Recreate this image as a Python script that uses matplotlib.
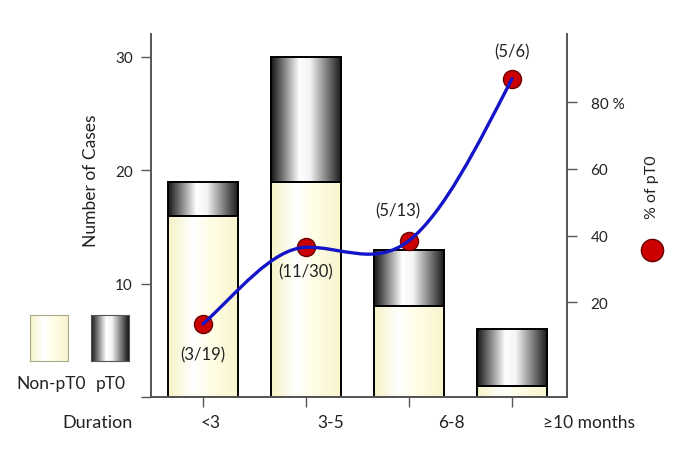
import numpy as np
import matplotlib.pyplot as plt
import matplotlib.transforms as mtransforms
from matplotlib.colors import LinearSegmentedColormap
from matplotlib.path import Path
from matplotlib.patches import PathPatch, Rectangle

categories = ['<3', '3-5', '6-8', '≥10 months']
non_pt0 = [16, 19, 8, 1]
pt0 = [3, 11, 5, 5]
pct_pt0 = [13.5, 36.5, 38.5, 87]
ratio_labels = ['(3/19)', '(11/30)', '(5/13)', '(5/6)']

# shape of the smooth blue line (slopes at each point) and label shifts
curve_slopes = [28, 1, 24, 60]
label_shift = [-0.02, 1.107, 2.28, 3.30]

plt.rcParams['font.family'] = ['Lato', 'DejaVu Sans']
TXT = '#222222'

cyl = LinearSegmentedColormap.from_list(
    'cyl', [(0, '#151515'), (0.4, '#ffffff'), (0.55, '#f4f4f4'), (1, '#151515')])
cream = LinearSegmentedColormap.from_list(
    'cream', [(0, '#f6f2c4'), (0.35, '#ffffff'), (0.6, '#fffde6'), (1, '#f8f4cc')])
grad = np.linspace(0, 1, 256).reshape(1, -1)


def grad_box(ax, x0, x1, y0, y1, cmap, z=2):
    ax.imshow(grad, cmap=cmap, extent=[x0, x1, y0, y1], aspect='auto',
              zorder=z, interpolation='bicubic')
    ax.add_patch(Rectangle((x0, y0), x1 - x0, y1 - y0, fill=False,
                           edgecolor='black', lw=1.4, zorder=z + 0.1))


fig = plt.figure(figsize=(6.85, 4.56), dpi=100)
ax = fig.add_axes([0.2204, 0.127, 0.6073, 0.796])
ax2 = ax.twinx()

width = 0.68
x = np.arange(len(categories))
for i in x:
    grad_box(ax, i - width / 2, i + width / 2, 0, non_pt0[i], cream)
    grad_box(ax, i - width / 2, i + width / 2, non_pt0[i], non_pt0[i] + pt0[i], cyl)

ax.set_xlim(-0.505, 3.534)
ax.set_ylim(0, 32)
ax.set_xticks(x)
ax.set_xticklabels([])
ax.set_yticks([0, 10, 20, 30])
ax.set_yticklabels(['', '10', '20', '30'])
ax.spines['top'].set_visible(False)
ax2.spines['top'].set_visible(False)
for a in (ax, ax2):
    for s in ['left', 'right', 'bottom']:
        a.spines[s].set_color('#555555')
        a.spines[s].set_linewidth(1.2)
ax.tick_params(axis='y', length=7, width=1, color='#555555', labelsize=11,
               labelcolor=TXT, pad=6)
ax.tick_params(axis='x', length=7, width=1, color='#555555')

trans = mtransforms.blended_transform_factory(ax.transData, fig.transFigure)
for i, lab in enumerate(categories):
    ax.text(label_shift[i], 1 - 423 / 456, lab, transform=trans, ha='left',
            va='center', fontsize=12.5, color=TXT)

# percentage curve
ax2.set_ylim(-8.4, 100.4)
ax2.set_yticks([20, 40, 60, 80])
ax2.set_yticklabels(['20', '40', '60', '80 %'])
ax2.tick_params(axis='y', length=7, width=1, color='#555555', labelsize=11,
                labelcolor=TXT, pad=10)

px = x.astype(float)
py = np.array(pct_pt0, dtype=float)
verts = [(px[0], py[0])]
codes = [Path.MOVETO]
for k in range(len(py) - 1):
    h = px[k + 1] - px[k]
    verts += [(px[k] + h / 3, py[k] + curve_slopes[k] * h / 3),
              (px[k + 1] - h / 3, py[k + 1] - curve_slopes[k + 1] * h / 3),
              (px[k + 1], py[k + 1])]
    codes += [Path.CURVE4] * 3
ax2.plot(px, py, 'o', ms=13, color='#cc0000', mec='#6a0000', mew=1, zorder=5)
ax2.add_patch(PathPatch(Path(verts, codes), fill=False, edgecolor='#1414c8',
                        lw=2.4, zorder=6, capstyle='round'))

offsets = [(0, -22), (0, -17), (-8, 22), (0, 20)]
for i, lab in enumerate(ratio_labels):
    ax2.annotate(lab, (px[i], py[i]), xytext=offsets[i], textcoords='offset points',
                 ha='center', va='center', fontsize=12, color=TXT)

fig.text(91 / 685, 1 - 181 / 456, 'Number of Cases', rotation=90, ha='center',
         va='center', fontsize=12.5, color=TXT)

# legend boxes
lg1 = fig.add_axes([30 / 685, 1 - 362 / 456, 38 / 685, 46 / 456])
lg2 = fig.add_axes([91 / 685, 1 - 362 / 456, 38 / 685, 46 / 456])
for lg, cm in ((lg1, cream), (lg2, cyl)):
    lg.imshow(grad, cmap=cm, aspect='auto', extent=[0, 1, 0, 1], interpolation='bicubic')
    lg.set_xticks([])
    lg.set_yticks([])
    for s in lg.spines.values():
        s.set_color('#aaaa88' if cm is cream else '#555555')
        s.set_linewidth(0.8)
fig.text(51 / 685, 1 - 384 / 456, 'Non-pT0', ha='center', va='center', fontsize=12.5, color=TXT)
fig.text(111 / 685, 1 - 384 / 456, 'pT0', ha='center', va='center', fontsize=12.5, color=TXT)
fig.text(98 / 685, 1 - 423 / 456, 'Duration', ha='center', va='center', fontsize=13, color=TXT)

fig.text(652 / 685, 1 - 187 / 456, '% of pT0', rotation=90, ha='center', va='center',
         fontsize=11.5, color=TXT)
mk = fig.add_axes([640 / 685, 1 - 263 / 456, 24 / 685, 24 / 456])
mk.plot([0], [0], 'o', ms=16, color='#cc0000', mec='#6a0000', mew=1)
mk.axis('off')

fig.savefig('out.png', dpi=100)
